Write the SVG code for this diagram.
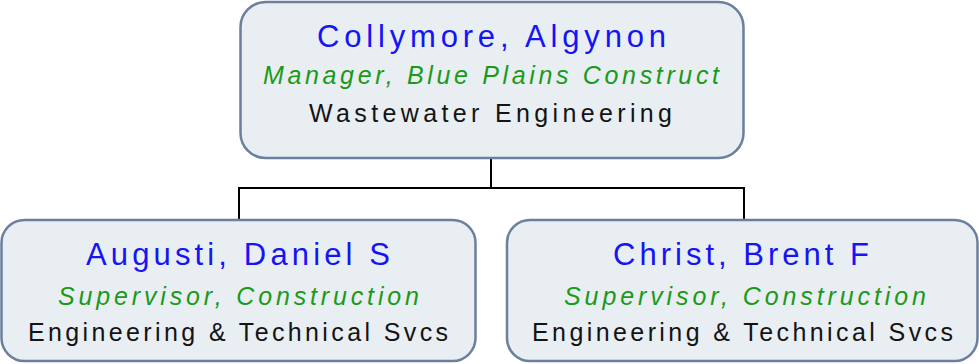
<svg xmlns="http://www.w3.org/2000/svg" width="979" height="364" viewBox="0 0 979 364">
<style>
.box{fill:#e9eef2;stroke:#6b7f9e;stroke-width:2.5}
.conn{fill:none;stroke:#000;stroke-width:2}
text{font-family:"Liberation Sans",Arial,sans-serif;text-anchor:middle}
.name{font-size:31px;fill:#1414f5}
.title{font-size:25px;font-style:italic;fill:#1a9a1a}
.dept{font-size:25px;fill:#141414}
</style>
<rect width="979" height="364" fill="#ffffff"/>
<g id="connectors">
<path class="conn" d="M491,158 V188 M239,188 H744 M239,187 V220 M744,187 V220"/>
</g>
<g id="node-collymore">
<rect class="box" x="240.5" y="2" width="503" height="156" rx="25"/>
<text class="name" x="491.5" y="47" textLength="349" lengthAdjust="spacing">Collymore, Algynon</text>
<text class="title" x="491" y="84" textLength="456" lengthAdjust="spacing">Manager, Blue Plains Construct</text>
<text class="dept" x="490.5" y="122" textLength="363" lengthAdjust="spacing">Wastewater Engineering</text>
</g>
<g id="node-augusti">
<rect class="box" x="1.5" y="220" width="474" height="141" rx="23"/>
<text class="name" x="238" y="265" textLength="304" lengthAdjust="spacing">Augusti, Daniel S</text>
<text class="title" x="238.5" y="304.5" textLength="361" lengthAdjust="spacing">Supervisor, Construction</text>
<text class="dept" x="238" y="341" textLength="420" lengthAdjust="spacing">Engineering &amp; Technical Svcs</text>
</g>
<g id="node-christ">
<rect class="box" x="507" y="220" width="470.5" height="141" rx="23"/>
<text class="name" x="741" y="265" textLength="256" lengthAdjust="spacing">Christ, Brent F</text>
<text class="title" x="745" y="304.5" textLength="362" lengthAdjust="spacing">Supervisor, Construction</text>
<text class="dept" x="742.5" y="341" textLength="421" lengthAdjust="spacing">Engineering &amp; Technical Svcs</text>
</g>
</svg>
